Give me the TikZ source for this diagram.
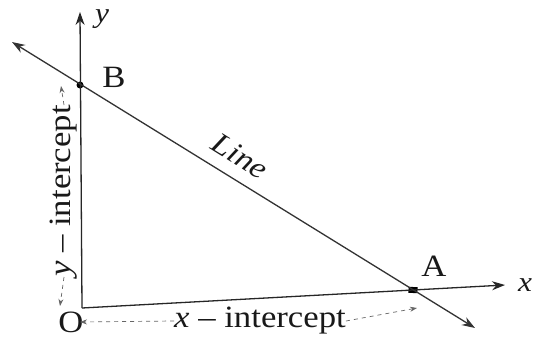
\documentclass[tikz,border=0pt]{standalone}
\usepackage{fontspec}
\setmainfont[FakeStretch=1.12]{Liberation Serif}
\usetikzlibrary{arrows.meta}
\begin{document}
\begin{tikzpicture}[x=1pt,y=-1pt,
  axis/.style={line width=1.3pt,draw=black!85,-{Stealth[length=13pt,width=9pt]}},
  mainline/.style={line width=1.3pt,draw=black!80,{Stealth[length=13pt,width=9pt]}-{Stealth[length=13pt,width=9pt]}},
  dimarrow/.style={line width=0.7pt,draw=black!60,dash pattern=on 4pt off 4pt,-{Stealth[length=7pt,width=5pt]}},
  lab/.style={font=\fontsize{31}{34}\selectfont,text=black!90,inner sep=0pt},
  dot/.style={circle,fill=black,inner sep=0pt,minimum size=7pt}]
\useasboundingbox (0,0) rectangle (533,340);
\fill[white] (0,0) rectangle (533,340);
\coordinate (O) at (82,308);
\coordinate (Xtip) at (505,285);
\coordinate (Ytip) at (80,12);
\coordinate (L1) at (12,42);
\coordinate (L2) at (475,328);
\node[dot] (B) at (80,85) {};
\node[dot,rectangle,minimum width=9pt,minimum height=6pt,rotate=-3] (A) at (413,290) {};
\draw[axis] (O) -- (Xtip);
\draw[axis] (O) -- (Ytip);
\draw[mainline] (L1) -- (L2);
\node[lab,font=\fontsize{28}{30}\selectfont\itshape] (ylab) at (102,19) {y};
\node[lab,font=\fontsize{28}{30}\selectfont\itshape] (xlab) at (525,285) {x};
\node[lab] (Blab) at (114,77) {B};
\node[lab] (Alab) at (434,266) {A};
\node[lab] (Olab) at (71,322) {O};
\node[lab,font=\fontsize{30}{32}\selectfont\itshape,rotate=-32] (linelab) at (240,156) {Line};
\node[lab] (xint) at (260,321) {\textit{x} – intercept};
\node[lab,rotate=90] (yint) at (64,191) {\textit{y} – intercept};
\coordinate (xl) at (80,322);
\coordinate (xr) at (417,308);
\coordinate (yt) at (61,86);
\coordinate (yb) at (60,306);
\draw[dimarrow] (xint.west) -- (xl);
\draw[dimarrow] (xint.east) -- (xr);
\draw[dimarrow] (yint.east) -- (yt);
\draw[dimarrow] (yint.west) -- (yb);
\end{tikzpicture}
\end{document}
